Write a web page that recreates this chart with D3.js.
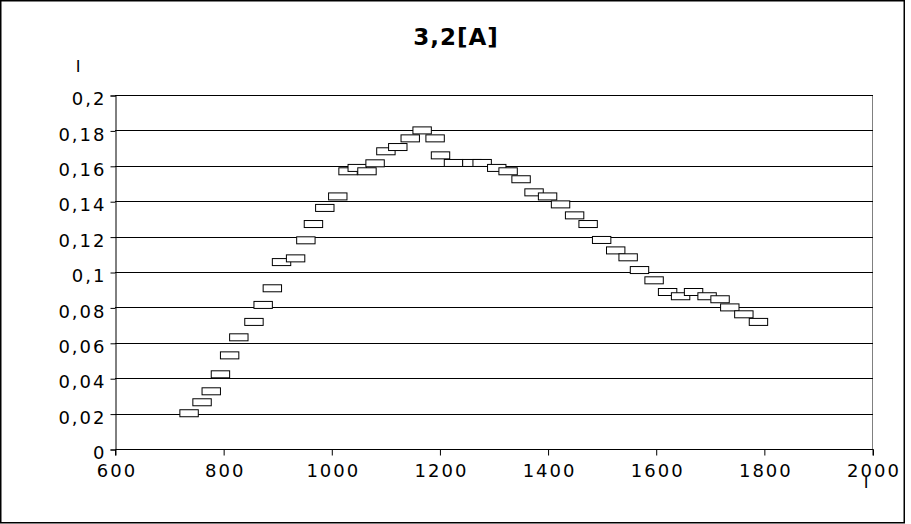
<!DOCTYPE html>
<html><head><meta charset="utf-8">
<script src="https://cdn.jsdelivr.net/npm/d3@7"></script>
<style>
html,body{margin:0;padding:0;background:#fff;}
svg{display:block;font-family:"DejaVu Sans",sans-serif;}
</style></head>
<body>
<svg id="chart" width="911" height="524"></svg>
<script>
const title = "3,2[A]";
const xTitle = "I";
const yTitle = "I";
const xTicks = [600, 800, 1000, 1200, 1400, 1600, 1800, 2000];
const yTicks = [0, 0.02, 0.04, 0.06, 0.08, 0.1, 0.12, 0.14, 0.16, 0.18, 0.2];
const xValues = [737, 761, 778, 795, 812, 829, 857, 874, 891, 908, 934, 953, 967, 988, 1012, 1031, 1048, 1066, 1081, 1101, 1123, 1146, 1168, 1192, 1202, 1226, 1260, 1279, 1306, 1327, 1351, 1375, 1400, 1424, 1450, 1475, 1500, 1526, 1549, 1570, 1597, 1622, 1646, 1670, 1695, 1719, 1737, 1763, 1790];
const yValues = [0.0202, 0.0264, 0.0326, 0.0422, 0.0529, 0.0631, 0.0718, 0.0814, 0.0908, 0.1056, 0.1077, 0.1179, 0.1271, 0.1362, 0.1427, 0.1569, 0.1588, 0.1569, 0.1614, 0.1682, 0.1706, 0.1755, 0.1800, 0.1755, 0.1659, 0.1616, 0.1616, 0.1616, 0.1588, 0.1569, 0.1524, 0.1450, 0.1427, 0.1382, 0.1320, 0.1271, 0.1181, 0.1122, 0.1083, 0.1011, 0.0953, 0.0887, 0.0863, 0.0887, 0.0863, 0.0846, 0.0800, 0.0761, 0.0718];

const svg = d3.select("#chart");
const L = 115, R = 872, T = 95, B = 449;
const x = d3.scaleLinear().domain([600, 2000]).range([L, R]);
const y = d3.scaleLinear().domain([0, 0.2]).range([B, T]);
const fmt = d => String(d).replace(".", ",");

// outer frame
svg.append("rect").attr("x", 0.75).attr("y", 0.75).attr("width", 903.5).attr("height", 522)
  .attr("fill", "#fff").attr("stroke", "#000").attr("stroke-width", 1.5);

// right border of plot
svg.append("line").attr("x1", R + 0.5).attr("x2", R + 0.5).attr("y1", T).attr("y2", B)
  .attr("stroke", "#808080").attr("stroke-width", 1);

// gridlines
svg.append("g").selectAll("line").data(yTicks.filter(d => d > 0)).join("line")
  .attr("x1", L).attr("x2", R + 1)
  .attr("y1", d => Math.round(y(d)) + 0.5).attr("y2", d => Math.round(y(d)) + 0.5)
  .attr("stroke", "#000").attr("stroke-width", 1);

// y axis
const yAxis = d3.axisLeft(y).tickValues(yTicks).tickFormat(fmt).tickSize(5).tickPadding(4);
const gy = svg.append("g").attr("transform", `translate(${L + 0.5},0.5)`).call(yAxis);
// x axis
const xAxis = d3.axisBottom(x).tickValues(xTicks).tickFormat(d => d).tickSize(6).tickPadding(9);
const gx = svg.append("g").attr("transform", `translate(0.5,${B + 0.5})`).call(xAxis);

[gx, gy].forEach(g => {
  g.select(".domain").attr("stroke", "#000").attr("stroke-width", 1);
  g.selectAll(".tick line").attr("stroke", "#000");
  g.selectAll(".tick text").attr("fill", "#000").style("font-size", "18px")
    .style("letter-spacing", "2px")
    .style("font-family", '"DejaVu Sans",sans-serif');
});
gy.selectAll(".tick text").attr("dy", "0.51em");
gx.selectAll(".tick text").attr("dx", "1px");
gx.select(".domain").attr("d", `M${L},6V0H${R + 1}V6`);

// markers
const w = 18.4, h = 7;
svg.append("g").selectAll("rect").data(xValues.map((v, i) => [v, yValues[i]])).join("rect")
  .attr("x", d => x(d[0]) - w / 2).attr("y", d => y(d[1]) - h / 2)
  .attr("width", w).attr("height", h)
  .attr("fill", "#fff").attr("stroke", "#000").attr("stroke-width", 1);

// title
svg.append("text").attr("x", 456).attr("y", 45).attr("text-anchor", "middle")
  .style("font-size", "23px").style("font-weight", "bold").style("letter-spacing", "1px").text(title);
// axis titles
svg.append("text").attr("x", 78).attr("y", 72).attr("text-anchor", "middle")
  .style("font-size", "16px").text(yTitle);
svg.append("text").attr("x", 866).attr("y", 488).attr("text-anchor", "middle")
  .style("font-size", "16px").text(xTitle);
</script>
</body></html>
